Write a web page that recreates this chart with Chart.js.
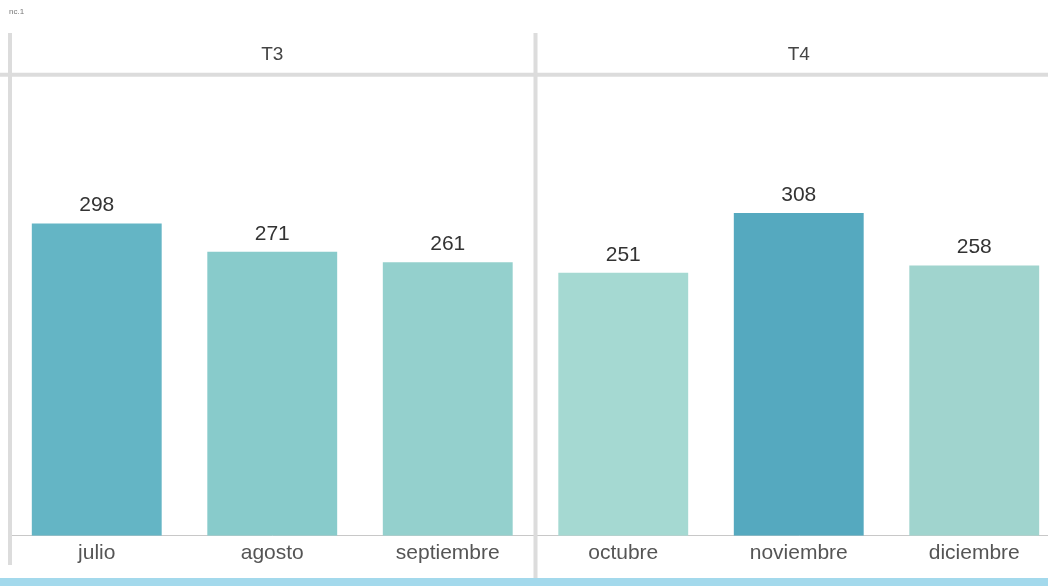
<!DOCTYPE html>
<html>
<head>
<meta charset="utf-8">
<script src="https://cdn.jsdelivr.net/npm/chart.js@4"></script>
<style>
  html, body { margin: 0; padding: 0; background: #fff; overflow: hidden; width: 1048px; height: 586px; }
  #wrap { position: relative; width: 1062px; height: 578px; }
  #stripe { position: absolute; left: 0; top: 578px; width: 1048px; height: 8px; background: #a3d9ec; }
  #tag { position: absolute; left: 9px; top: 7px; font: 8px "Liberation Sans", Arial, sans-serif; color: #777; }
</style>
</head>
<body>
<div id="wrap"><canvas id="c"></canvas></div>
<div id="stripe"></div>
<div id="tag">nc.1</div>
<script>
const months = ['julio', 'agosto', 'septiembre', 'octubre', 'noviembre', 'diciembre'];
const quarters = ['T3', 'T4'];
const values = [298, 271, 261, 251, 308, 258];
const barColors = ['#64b5c5', '#88cbcb', '#94d0cd', '#a5d9d2', '#55a9bf', '#a0d4ce'];

const linePlugin = {
  id: 'frameLines',
  afterDatasetsDraw(chart) {
    const ctx = chart.ctx;
    const x = chart.scales.x;
    const a = chart.chartArea;
    ctx.save();
    ctx.font = '21px "Liberation Sans", Arial, sans-serif';
    ctx.fillStyle = '#333';
    ctx.textAlign = 'center';
    ctx.textBaseline = 'middle';
    const meta = chart.getDatasetMeta(0);
    meta.data.forEach((bar, i) => {
      ctx.fillText(String(values[i]), bar.x, bar.y - 18);
    });
    ctx.strokeStyle = '#dcdcdc';
    ctx.lineWidth = 4;
    const left = a.left + 1;
    const mid = x.getPixelForValue(2.5);
    ctx.beginPath();
    ctx.moveTo(left, 33); ctx.lineTo(left, 565);
    ctx.moveTo(mid, 33); ctx.lineTo(mid, 580);
    ctx.stroke();
    ctx.beginPath();
    ctx.moveTo(0, a.top - 1); ctx.lineTo(chart.width, a.top - 1);
    ctx.stroke();
    ctx.restore();
  }
};

new Chart(document.getElementById('c'), {
  type: 'bar',
  data: {
    labels: months,
    datasets: [{
      data: values,
      backgroundColor: barColors,
      categoryPercentage: 1,
      barPercentage: 0.74
    }]
  },
  options: {
    responsive: true,
    maintainAspectRatio: false,
    animation: false,
    layout: { padding: { left: 9, right: 0, top: 33, bottom: 7 } },
    plugins: { legend: { display: false }, tooltip: { enabled: false } },
    scales: {
      y: {
        display: false,
        min: 0,
        max: 439
      },
      x: {
        position: 'bottom',
        grid: { display: false, drawTicks: false },
        border: { display: true, color: '#c8c8c8', width: 1 },
        ticks: {
          color: '#555',
          font: { family: '"Liberation Sans", Arial, sans-serif', size: 21 },
          padding: 5
        }
      },
      x2: {
        type: 'category',
        labels: quarters,
        position: 'top',
        offset: true,
        grid: { display: false, drawTicks: false },
        border: { display: false },
        ticks: {
          color: '#444',
          font: { family: '"Liberation Sans", Arial, sans-serif', size: 19 },
          padding: 10
        }
      }
    }
  },
  plugins: [linePlugin]
});
</script>
</body>
</html>
